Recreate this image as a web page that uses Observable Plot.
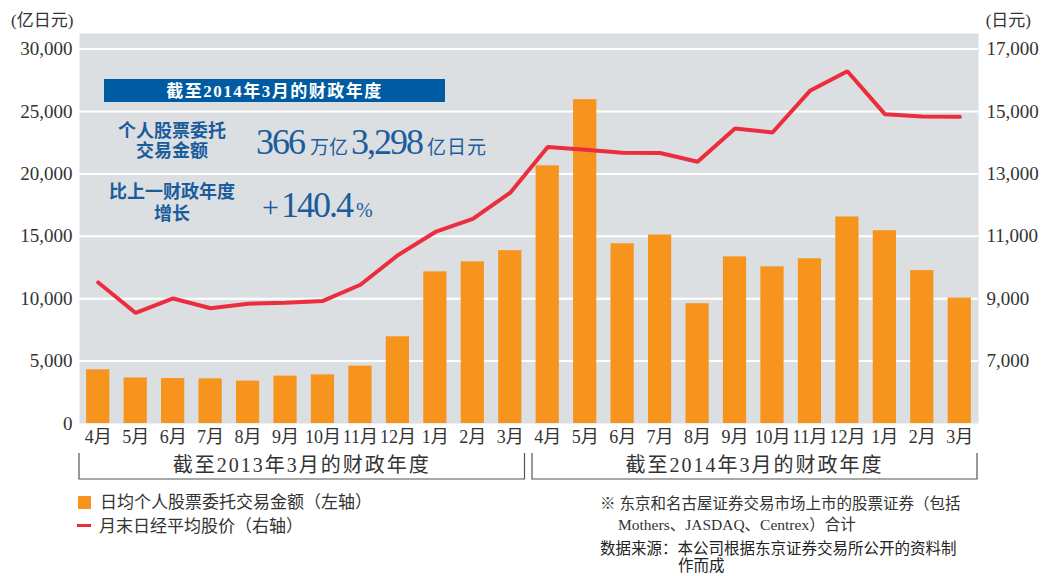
<!DOCTYPE html>
<html>
<head>
<meta charset="utf-8">
<script src="https://cdn.jsdelivr.net/npm/d3@7"></script>
<script src="https://cdn.jsdelivr.net/npm/@observablehq/plot@0.6"></script>
<style>
  body { margin: 0; background: #fff; }
  #wrap { position: relative; width: 1050px; height: 576px; overflow: hidden;
          font-family: "Liberation Serif", "Noto Sans CJK SC", serif; color: #333; }
  .abs { position: absolute; white-space: nowrap; line-height: 20px; }
</style>
</head>
<body>
<div id="wrap"></div>
<script>
// ---- data ----
const monthLabels = ["4月","5月","6月","7月","8月","9月","10月","11月","12月","1月","2月","3月",
                     "4月","5月","6月","7月","8月","9月","10月","11月","12月","1月","2月","3月"];
// 日均个人股票委托交易金额（亿日元，左轴）
const tradingAmount = [4300, 3650, 3600, 3580, 3400, 3800, 3900, 4600, 6950, 12150, 12950, 13850,
                       20650, 25950, 14400, 15100, 9600, 13350, 12550, 13200, 16550, 15450, 12250, 10050];
// 月末日经平均股价（日元，右轴）
const nikkeiClose = [9520, 8543, 9007, 8695, 8840, 8870, 8928, 9446, 10395, 11139, 11559, 12398,
                     13861, 13775, 13677, 13668, 13389, 14456, 14328, 15662, 16291, 14915, 14841, 14828];
const leftTicks = [0, 5000, 10000, 15000, 20000, 25000, 30000];
const rightTicks = [7000, 9000, 11000, 13000, 15000, 17000];
const fiscalYears = [
  {label: "截至2013年3月的财政年度", from: 0, to: 11},
  {label: "截至2014年3月的财政年度", from: 12, to: 23}
];
const boxTitle = "截至2014年3月的财政年度";
const legendItems = ["日均个人股票委托交易金额（左轴）", "月末日经平均股价（右轴）"];
const notes = ["※ 东京和名古屋证券交易市场上市的股票证券（包括", "Mothers、JASDAQ、Centrex）合计",
               "数据来源：本公司根据东京证券交易所公开的资料制", "作而成"];

// right axis (5,000–17,500) mapped onto left axis (0–31,250)
const toLeft = v => (v - 5000) * 2.5;
const fromLeft = v => v / 2.5 + 5000;

const FONT = '"Liberation Serif", "Noto Sans CJK SC", serif';
const data = tradingAmount.map((a, i) => ({i, amount: a, nikkei: nikkeiClose[i], month: monthLabels[i]}));

const chart = Plot.plot({
  width: 1050, height: 490,
  marginLeft: 79, marginRight: 72, marginTop: 33, marginBottom: 67,
  style: {fontFamily: FONT, fontSize: "19px", color: "#333", background: "transparent", overflow: "visible"},
  x: {domain: [-0.5, 23.5], axis: null},
  y: {domain: [0, 31250], axis: null},
  marks: [
    Plot.frame({fill: "#dcdfe2", stroke: null}),
    Plot.gridY(leftTicks.slice(1), {stroke: "#ffffff", strokeOpacity: 1, strokeWidth: 2}),
    Plot.rectY(data, {x1: d => d.i - 0.31, x2: d => d.i + 0.31, y: "amount", fill: "#f7941d"}),
    Plot.line(data, {x: "i", y: d => toLeft(d.nikkei), stroke: "#ec2d3e", strokeWidth: 4, strokeLinejoin: "miter"}),
    Plot.axisY(leftTicks, {anchor: "left", tickSize: 0, tickPadding: 7, tickFormat: d3.format(","), label: null, fill: "#333"}),
    Plot.axisY(rightTicks.map(toLeft), {anchor: "right", tickSize: 0, tickPadding: 8,
      tickFormat: d => d3.format(",")(Math.round(fromLeft(d))), label: null, fill: "#333"}),
    Plot.axisX(d3.range(24), {anchor: "bottom", tickSize: 0, tickPadding: 7, tickFormat: i => monthLabels[i],
      label: null, fontSize: 18, fill: "#333"})
  ]
});

const wrap = document.getElementById("wrap");
wrap.appendChild(chart);

const sx = chart.scale("x").apply, sy = chart.scale("y").apply;
const svg = d3.select(chart);
const g = svg.append("g").attr("font-family", FONT).attr("text-anchor", "start");

// axis unit labels
g.append("text").attr("x", 11).attr("y", 20).attr("dominant-baseline", "central")
  .attr("font-size", 17).attr("fill", "#333").text("(亿日元)");
g.append("text").attr("x", 1031).attr("y", 20).attr("dominant-baseline", "central").attr("text-anchor", "end")
  .attr("font-size", 17).attr("fill", "#333").text("(日元)");

// fiscal year brackets
const y0 = sy(0);
fiscalYears.forEach((fy, k) => {
  const xa = sx(fy.from - 0.5) + (k === 0 ? 0 : 3.5);
  const xb = sx(fy.to + 0.5) - (k === 0 ? 4 : 1);
  g.append("path").attr("d", `M${xa},${y0 + 30}V${y0 + 56}H${xb}V${y0 + 30}`)
    .attr("fill", "none").attr("stroke", "#555").attr("stroke-width", 1.2);
  g.append("text").attr("x", (xa + xb) / 2).attr("y", y0 + 42).attr("text-anchor", "middle")
    .attr("dominant-baseline", "central").attr("font-size", 20).attr("letter-spacing", 2)
    .attr("fill", "#333").text(fy.label);
});

// annotation box
const blue = "#1a5c9c";
g.append("rect").attr("x", 104).attr("y", 79).attr("width", 341).attr("height", 23).attr("fill", "#005ca2");
g.append("text").attr("x", 274.5).attr("y", 91).attr("text-anchor", "middle").attr("dominant-baseline", "central")
  .attr("fill", "#fff").attr("font-weight", "bold").attr("font-size", 17).attr("letter-spacing", 1.5).text(boxTitle);

[["个人股票委托", 131], ["交易金额", 151], ["比上一财政年度", 192], ["增长", 214]].forEach(([t, y]) => {
  g.append("text").attr("x", 172).attr("y", y).attr("text-anchor", "middle").attr("dominant-baseline", "central")
    .attr("fill", blue).attr("font-weight", "bold").attr("font-size", 18).text(t);
});

const t1 = g.append("text").attr("x", 256).attr("y", 154).attr("fill", blue);
t1.append("tspan").attr("font-size", 36).attr("letter-spacing", -2).text("366");
t1.append("tspan").attr("dx", 6).attr("font-size", 19).text("万亿");
t1.append("tspan").attr("dx", 3).attr("font-size", 36).attr("letter-spacing", -2).text("3,298");
t1.append("tspan").attr("dx", 5).attr("font-size", 19).attr("letter-spacing", 1).text("亿日元");

const t2 = g.append("text").attr("x", 262).attr("y", 217).attr("fill", blue);
t2.append("tspan").attr("font-size", 30).text("+");
t2.append("tspan").attr("dx", 2).attr("font-size", 36).attr("letter-spacing", -2).text("140.4");
t2.append("tspan").attr("dx", 4).attr("font-size", 20).text("%");

// legend + notes (HTML)
const add = (html, left, top, size, extra = "") => {
  const d = document.createElement("div");
  d.className = "abs";
  d.style.cssText = `left:${left}px;top:${top}px;font-size:${size}px;${extra}`;
  d.innerHTML = html;
  wrap.appendChild(d);
};
add(`<span style="display:inline-block;width:13px;height:13px;background:#f7941d;vertical-align:-1px;margin-right:9px"></span>${legendItems[0]}`, 78, 493, 17);
add(`<span style="display:inline-block;width:14px;height:3px;background:#ec2d3e;vertical-align:5px;margin-right:8px"></span>${legendItems[1]}`, 77, 517, 17);
add(notes[0], 600, 494, 15.5);
add(notes[1], 618, 515, 15.5);
add(notes[2], 600, 539, 15.5, "color:#222");
add(notes[3], 678, 556, 15.5, "color:#222");
</script>
</body>
</html>
